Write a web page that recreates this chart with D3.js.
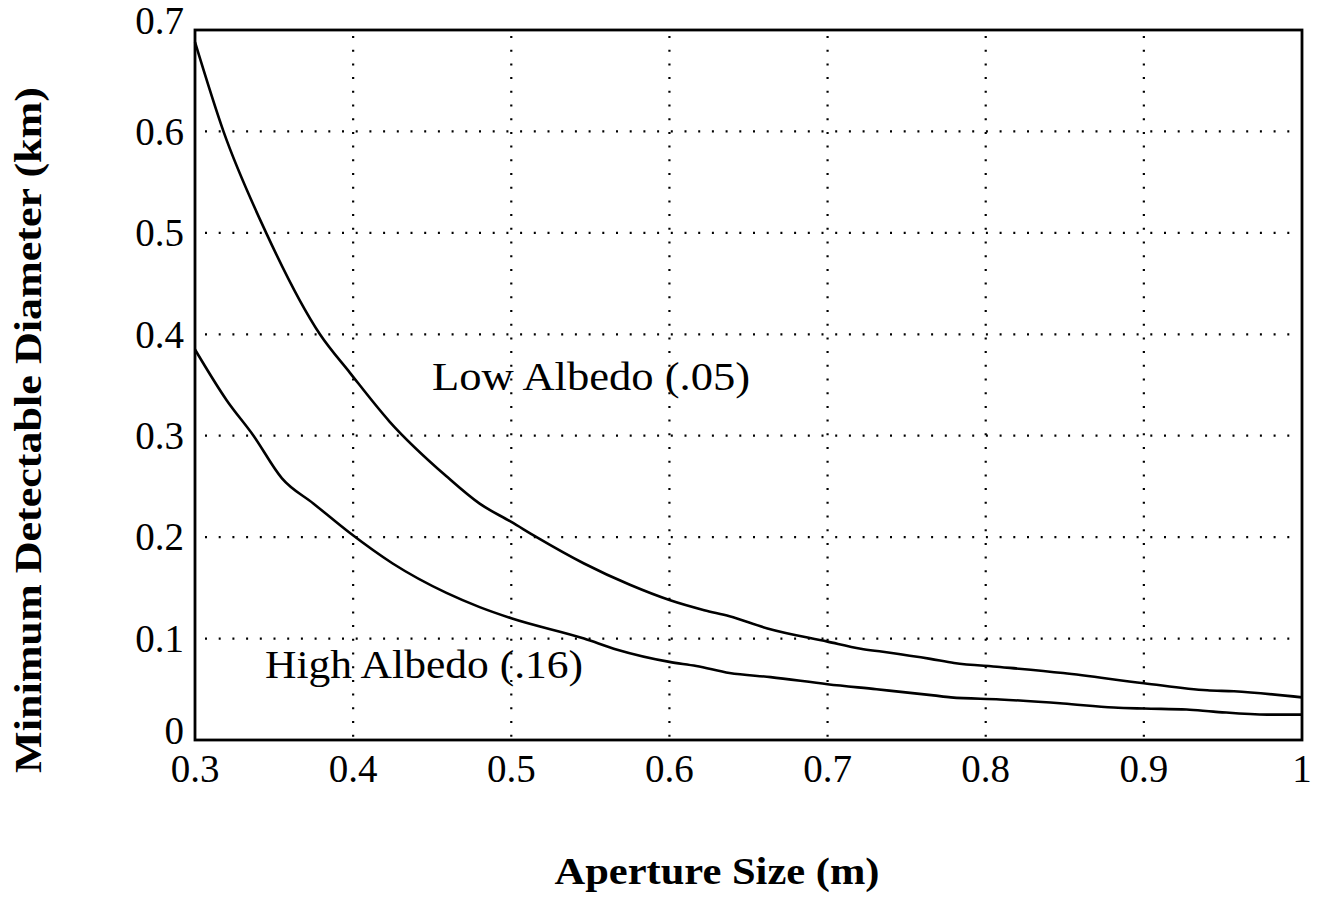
<!DOCTYPE html>
<head>
    <title>Minimum Detectable Diameter</title>
    <meta charset="utf-8">
    <style>
        body { margin: 0; background: #fff; }
        text { font-family: "Liberation Serif", "Times New Roman", serif; fill: #000; }
    </style>
</head>

<body>

<div id="chart"></div>

<script src="https://d3js.org/d3.v7.min.js"></script>

<script>

// Aperture size (m) vs minimum detectable diameter (km)
var lowX = [0.300, 0.318, 0.345, 0.379, 0.398, 0.423, 0.459, 0.480, 0.500, 0.516, 0.546, 0.575,
            0.600, 0.622, 0.638, 0.662, 0.700, 0.721, 0.735, 0.765, 0.780, 0.809, 0.849, 0.900, 0.940, 0.957, 1.000];
var lowY = [0.688, 0.600, 0.500, 0.400, 0.362, 0.314, 0.260, 0.233, 0.215, 0.200, 0.174, 0.153,
            0.138, 0.128, 0.122, 0.110, 0.097, 0.090, 0.087, 0.080, 0.076, 0.072, 0.066, 0.056, 0.049, 0.048, 0.042];

var highX = [0.300, 0.320, 0.337, 0.355, 0.375, 0.398, 0.425, 0.459, 0.480, 0.500, 0.546, 0.567, 0.600, 0.617,
             0.638, 0.664, 0.700, 0.731, 0.767, 0.778, 0.809, 0.849, 0.881, 0.900, 0.927, 0.944, 0.978, 1.000];
var highY = [0.385, 0.335, 0.300, 0.258, 0.233, 0.204, 0.174, 0.145, 0.131, 0.120, 0.100, 0.089, 0.077, 0.073,
             0.066, 0.062, 0.055, 0.050, 0.044, 0.042, 0.040, 0.036, 0.032, 0.031, 0.030, 0.028, 0.025, 0.025];

var xTicks = [0.3, 0.4, 0.5, 0.6, 0.7, 0.8, 0.9, 1];
var yTicks = [0, 0.1, 0.2, 0.3, 0.4, 0.5, 0.6, 0.7];

var curveLabels = [
    { text: "Low Albedo (.05)", x: 0.4499, y: 0.345, len: 318 },
    { text: "High Albedo (.16)", x: 0.3443, y: 0.061, len: 318 }
];

var width = 1318, height = 919;
var plot = { left: 195, right: 1302, top: 30, bottom: 740 };

var svg = d3.select("#chart").append("svg")
    .attr("width", width)
    .attr("height", height);

var x = d3.scaleLinear().domain([0.3, 1]).range([plot.left, plot.right]);
var y = d3.scaleLinear().domain([0, 0.7]).range([plot.bottom, plot.top]);

// dotted grid
var grid = svg.append("g")
    .attr("stroke", "#000")
    .attr("stroke-width", 2.2)
    .attr("stroke-dasharray", "2,11.7")
    .attr("fill", "none");

grid.selectAll("line.v")
    .data(xTicks.slice(1, -1))
    .enter().append("line")
    .attr("class", "v")
    .attr("x1", function(d) { return x(d); })
    .attr("x2", function(d) { return x(d); })
    .attr("y1", plot.top + 6)
    .attr("y2", plot.bottom);

grid.selectAll("line.h")
    .data(yTicks.slice(1, -1))
    .enter().append("line")
    .attr("class", "h")
    .attr("x1", plot.left + 10)
    .attr("x2", plot.right)
    .attr("y1", function(d) { return y(d); })
    .attr("y2", function(d) { return y(d); });

// curves
var line = d3.line()
    .x(function(d) { return x(d[0]); })
    .y(function(d) { return y(d[1]); })
    .curve(d3.curveMonotoneX);

var series = [d3.zip(lowX, lowY), d3.zip(highX, highY)];

svg.selectAll("path.curve")
    .data(series)
    .enter().append("path")
    .attr("class", "curve")
    .attr("d", line)
    .attr("fill", "none")
    .attr("stroke", "#000")
    .attr("stroke-width", 2.6);

// frame
svg.append("rect")
    .attr("x", plot.left)
    .attr("y", plot.top)
    .attr("width", plot.right - plot.left)
    .attr("height", plot.bottom - plot.top)
    .attr("fill", "none")
    .attr("stroke", "#000")
    .attr("stroke-width", 2.8);

// tick labels
svg.selectAll("text.xt")
    .data(xTicks)
    .enter().append("text")
    .attr("class", "xt")
    .attr("x", function(d) { return x(d); })
    .attr("y", 782)
    .attr("text-anchor", "middle")
    .style("font-size", "39px")
    .text(function(d) { return d3.format("")(d); });

svg.selectAll("text.yt")
    .data(yTicks)
    .enter().append("text")
    .attr("class", "yt")
    .attr("x", 184)
    .attr("y", function(d, i) {
        var off = (i === 0 || i === yTicks.length - 1) ? -9 : 0;
        return y(d) + off;
    })
    .attr("dy", "0.34em")
    .attr("text-anchor", "end")
    .style("font-size", "39px")
    .text(function(d) { return d3.format("")(d); });

// curve labels
svg.selectAll("text.cl")
    .data(curveLabels)
    .enter().append("text")
    .attr("class", "cl")
    .attr("x", function(d) { return x(d.x); })
    .attr("y", function(d) { return y(d.y); })
    .attr("textLength", function(d) { return d.len; })
    .attr("lengthAdjust", "spacingAndGlyphs")
    .style("font-size", "40px")
    .text(function(d) { return d.text; });

// axis titles
svg.append("text")
    .attr("x", 717)
    .attr("y", 884)
    .attr("text-anchor", "middle")
    .attr("textLength", 325)
    .attr("lengthAdjust", "spacingAndGlyphs")
    .style("font-size", "37px")
    .style("font-weight", "bold")
    .text("Aperture Size (m)");

svg.append("text")
    .attr("transform", "translate(41,430) rotate(-90)")
    .attr("text-anchor", "middle")
    .attr("textLength", 686)
    .attr("lengthAdjust", "spacingAndGlyphs")
    .style("font-size", "37px")
    .style("font-weight", "bold")
    .text("Minimum Detectable Diameter (km)");

</script>

</body>
</html>
